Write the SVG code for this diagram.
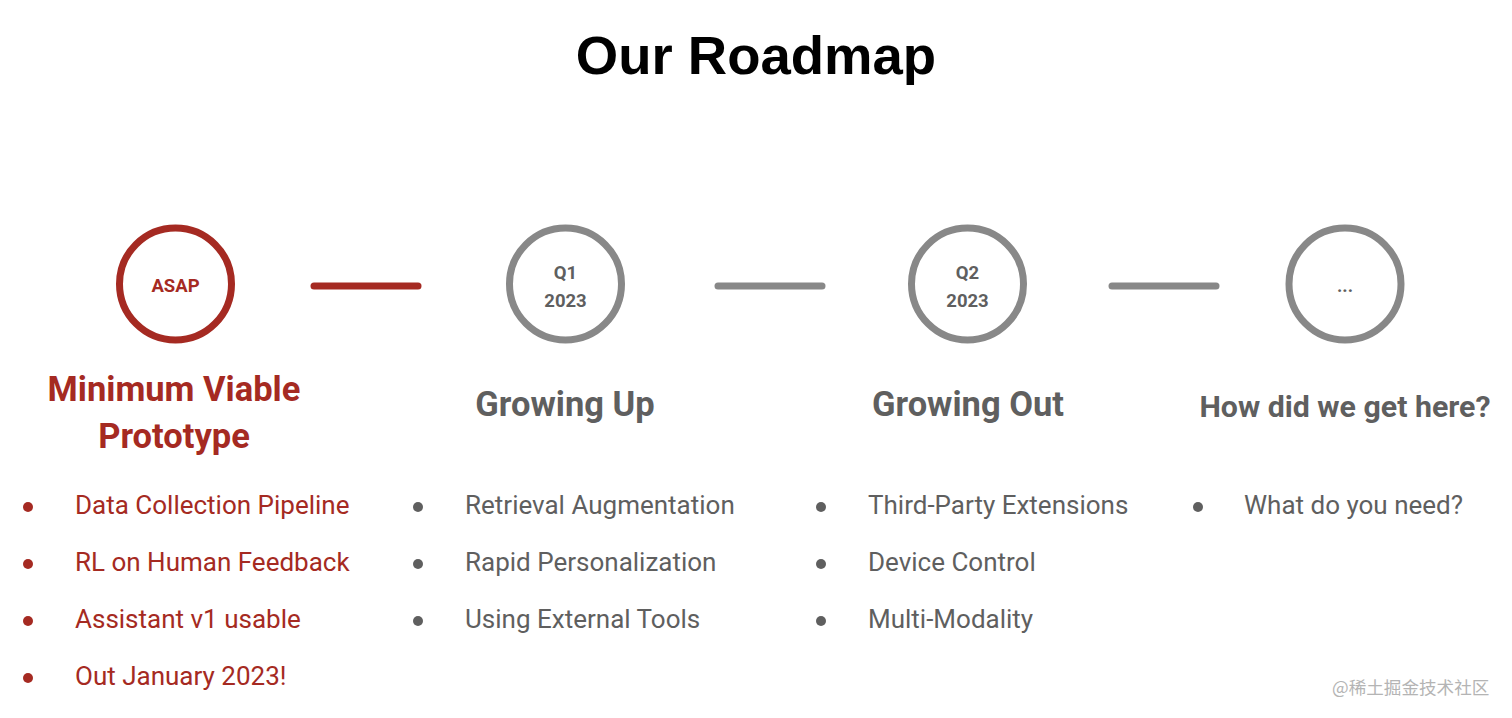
<svg xmlns="http://www.w3.org/2000/svg" width="1512" height="718" viewBox="0 0 1512 718">
  <style>
    .title { font-family: "Liberation Sans", Arial, sans-serif; font-weight: bold; font-size: 54.5px; fill: #000; text-anchor: middle; }
    .ring { fill: none; stroke-width: 7; }
    .ring.red { stroke: #a52a22; }
    .ring.gray { stroke: #888888; }
    .badge { font-family: Roboto, "Noto Sans", sans-serif; font-weight: bold; font-size: 18.5px; text-anchor: middle; }
    .head { font-family: Roboto, "Noto Sans", sans-serif; font-weight: bold; font-size: 34.5px; text-anchor: middle; }
    .item { font-family: Roboto, "Noto Sans", sans-serif; font-size: 26px; }
    .red { fill: #a52a22; }
    .gray { fill: #5f5f5f; }
    .link { stroke-width: 7; stroke-linecap: round; fill: none; }
    .mark { font-family: "Noto Sans CJK SC", "Noto Sans", sans-serif; font-size: 17.6px; fill: #b4b4b4; }
  </style>

  <text class="title" x="756" y="74">Our Roadmap</text>

  <!-- connectors between milestones -->
  <g id="connectors">
    <line class="link" x1="314" y1="286" x2="418" y2="286" stroke="#a52a22"/>
    <line class="link" x1="718" y1="286" x2="822" y2="286" stroke="#888888"/>
    <line class="link" x1="1112" y1="286" x2="1216" y2="286" stroke="#888888"/>
  </g>

  <!-- milestone: ASAP -->
  <g id="node-asap">
    <circle class="ring red" cx="175.5" cy="284" r="56" style="fill:none"/>
    <text class="badge red" x="175.5" y="292">ASAP</text>
    <text class="head red" x="174" y="401">Minimum Viable</text>
    <text class="head red" x="174" y="448">Prototype</text>
    <g class="red">
      <circle cx="28" cy="507" r="5"/>
      <circle cx="28" cy="564" r="5"/>
      <circle cx="28" cy="621" r="5"/>
      <circle cx="28" cy="678" r="5"/>
    </g>
    <text class="item red" x="75" y="514">Data Collection Pipeline</text>
    <text class="item red" x="75" y="571">RL on Human Feedback</text>
    <text class="item red" x="75" y="628">Assistant v1 usable</text>
    <text class="item red" x="75" y="685">Out January 2023!</text>
  </g>

  <!-- milestone: Q1 2023 -->
  <g id="node-q1">
    <circle class="ring gray" cx="565.5" cy="284" r="56" style="fill:none"/>
    <text class="badge gray" x="565.5" y="279">Q1</text>
    <text class="badge gray" x="565.5" y="307">2023</text>
    <text class="head gray" x="565" y="416">Growing Up</text>
    <g class="gray">
      <circle cx="418" cy="507" r="5"/>
      <circle cx="418" cy="564" r="5"/>
      <circle cx="418" cy="621" r="5"/>
    </g>
    <text class="item gray" x="465" y="514">Retrieval Augmentation</text>
    <text class="item gray" x="465" y="571">Rapid Personalization</text>
    <text class="item gray" x="465" y="628">Using External Tools</text>
  </g>

  <!-- milestone: Q2 2023 -->
  <g id="node-q2">
    <circle class="ring gray" cx="967.5" cy="284" r="56" style="fill:none"/>
    <text class="badge gray" x="967.5" y="279">Q2</text>
    <text class="badge gray" x="967.5" y="307">2023</text>
    <text class="head gray" x="968" y="416">Growing Out</text>
    <g class="gray">
      <circle cx="821" cy="507" r="5"/>
      <circle cx="821" cy="564" r="5"/>
      <circle cx="821" cy="621" r="5"/>
    </g>
    <text class="item gray" x="868" y="514">Third-Party Extensions</text>
    <text class="item gray" x="868" y="571">Device Control</text>
    <text class="item gray" x="868" y="628">Multi-Modality</text>
  </g>

  <!-- milestone: next -->
  <g id="node-next">
    <circle class="ring gray" cx="1345" cy="284" r="56" style="fill:none"/>
    <text class="badge gray" x="1345" y="292">...</text>
    <text class="head gray" x="1345" y="417" style="font-size:30.3px">How did we get here?</text>
    <circle class="gray" cx="1198" cy="507" r="5"/>
    <text class="item gray" x="1244" y="514">What do you need?</text>
  </g>

  <text class="mark" x="1332" y="694">@稀土掘金技术社区</text>
</svg>
